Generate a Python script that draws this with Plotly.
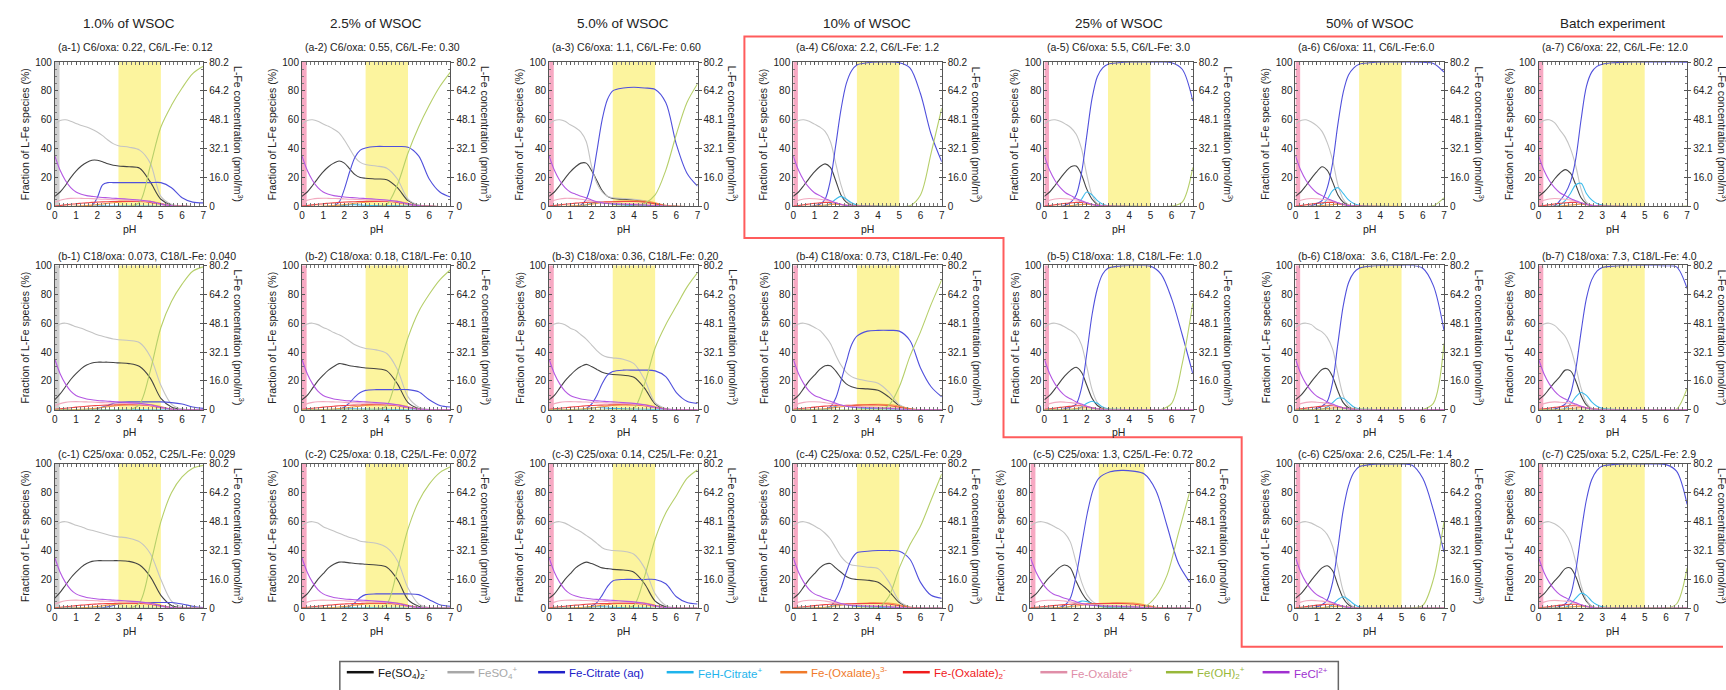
import plotly.graph_objects as go

W, H = 1726, 690

# pH sampling points shared by every species curve
PH = [0, 0.25, 0.5, 0.75, 1, 1.25, 1.5, 1.75, 2, 2.25, 2.5, 2.75, 3, 3.5, 4, 4.5, 5, 5.5, 6, 6.5, 7]

COLUMN_HEADERS = ["1.0% of WSOC", "2.5% of WSOC", "5.0% of WSOC", "10% of WSOC",
                  "25% of WSOC", "50% of WSOC", "Batch experiment"]

PANEL_IDS = [
    ["a-1", "a-2", "a-3", "a-4", "a-5", "a-6", "a-7"],
    ["b-1", "b-2", "b-3", "b-4", "b-5", "b-6", "b-7"],
    ["c-1", "c-2", "c-3", "c-4", "c-5", "c-6", "c-7"],
]

SUBTITLES = {
    "a-1": "(a-1) C6/oxa: 0.22, C6/L-Fe: 0.12",
    "a-2": "(a-2) C6/oxa: 0.55, C6/L-Fe: 0.30",
    "a-3": "(a-3) C6/oxa: 1.1, C6/L-Fe: 0.60",
    "a-4": "(a-4) C6/oxa: 2.2, C6/L-Fe: 1.2",
    "a-5": "(a-5) C6/oxa: 5.5, C6/L-Fe: 3.0",
    "a-6": "(a-6) C6/oxa: 11, C6/L-Fe:6.0",
    "a-7": "(a-7) C6/oxa: 22, C6/L-Fe: 12.0",
    "b-1": "(b-1) C18/oxa: 0.073, C18/L-Fe: 0.040",
    "b-2": "(b-2) C18/oxa: 0.18, C18/L-Fe: 0.10",
    "b-3": "(b-3) C18/oxa: 0.36, C18/L-Fe: 0.20",
    "b-4": "(b-4) C18/oxa: 0.73, C18/L-Fe: 0.40",
    "b-5": "(b-5) C18/oxa: 1.8, C18/L-Fe: 1.0",
    "b-6": "(b-6) C18/oxa:  3.6, C18/L-Fe: 2.0",
    "b-7": "(b-7) C18/oxa: 7.3, C18/L-Fe: 4.0",
    "c-1": "(c-1) C25/oxa: 0.052, C25/L-Fe: 0.029",
    "c-2": "(c-2) C25/oxa: 0.18, C25/L-Fe: 0.072",
    "c-3": "(c-3) C25/oxa: 0.14, C25/L-Fe: 0.21",
    "c-4": "(c-4) C25/oxa: 0.52, C25/L-Fe: 0.29",
    "c-5": "(c-5) C25/oxa: 1.3, C25/L-Fe: 0.72",
    "c-6": "(c-6) C25/oxa: 2.6, C25/L-Fe: 1.4",
    "c-7": "(c-7) C25/oxa: 5.2, C25/L-Fe: 2.9",
}

# Fe(SO4)2-  (%)
FE_SO4_2 = {
    "a-1": [7, 10, 14.5, 20, 24.5, 28, 30.5, 32, 32, 31, 29.5, 28.5, 28, 27.5, 26.5, 17, 5, 1, 0.2, 0, 0],
    "a-2": [7, 10, 14.5, 19.5, 24, 27.5, 30, 31.5, 30, 26, 22, 20, 19.5, 19, 18.5, 13, 4, 0.8, 0.1, 0, 0],
    "a-3": [7, 10, 14.5, 19.5, 24, 27.5, 30, 30, 25, 18, 11, 7, 5.5, 5, 4.5, 3.5, 2, 0.4, 0, 0, 0],
    "a-4": [7, 10, 14.5, 19.5, 24, 27.5, 29.5, 27, 18, 8, 3, 1, 0.3, 0, 0, 0, 0, 0, 0, 0, 0],
    "a-5": [7, 10, 14.5, 19.5, 24, 27.5, 28, 22, 12, 5, 1.5, 0.3, 0, 0, 0, 0, 0, 0, 0, 0, 0],
    "a-6": [7, 10, 14.5, 19.5, 24, 27.5, 25, 17, 8, 3, 0.8, 0.2, 0, 0, 0, 0, 0, 0, 0, 0, 0],
    "a-7": [7, 10, 14, 19, 23, 25.5, 23, 15, 6, 2, 0.5, 0.1, 0, 0, 0, 0, 0, 0, 0, 0, 0],
    "b-1": [7, 11, 16, 21, 25, 28.5, 31, 32.5, 33, 33, 33, 32.8, 32.5, 32, 30, 22, 8, 2, 0.3, 0, 0],
    "b-2": [7, 10, 15, 20, 24, 27.5, 30, 32, 31.5, 30.5, 30, 29.5, 29, 28.5, 27, 18, 5, 1, 0.1, 0, 0],
    "b-3": [7, 10, 15, 20, 24, 27.5, 30, 31.5, 30, 28, 26, 25, 24.5, 24, 22.5, 15, 4, 0.5, 0, 0, 0],
    "b-4": [7, 10, 15, 20, 24, 28, 30.5, 30.5, 27, 22, 18, 16, 15, 14.5, 13.5, 9, 3, 0.5, 0, 0, 0],
    "b-5": [7, 10, 14.5, 19.5, 24, 27.5, 29.5, 26, 17, 8, 3, 1, 0.2, 0, 0, 0, 0, 0, 0, 0, 0],
    "b-6": [7, 10, 14.5, 19.5, 24, 28, 28.5, 23, 13, 5, 1.5, 0.4, 0, 0, 0, 0, 0, 0, 0, 0, 0],
    "b-7": [7, 10, 14.5, 19, 23, 27.5, 27, 20, 10, 3.5, 1, 0.2, 0, 0, 0, 0, 0, 0, 0, 0, 0],
    "c-1": [7, 11, 16, 21, 25, 28.5, 31, 32.5, 33, 33, 33, 33, 33, 32.5, 30, 22, 9, 2, 0.3, 0, 0],
    "c-2": [7, 10, 15, 20, 24, 28, 30.5, 32, 32, 31.5, 31, 30.8, 30.5, 30, 28.5, 20, 6, 1.5, 0.2, 0, 0],
    "c-3": [7, 10, 15, 20, 24, 28, 30.5, 32, 31, 29.5, 28, 27.5, 27, 26.5, 25, 17, 5, 1, 0.1, 0, 0],
    "c-4": [7, 10, 15, 20, 24, 28, 30.5, 31, 28, 25, 22, 20.5, 20, 19.5, 18, 12, 4, 0.5, 0, 0, 0],
    "c-5": [7, 10, 15, 20, 24, 28, 30, 28, 19, 11, 5.5, 3, 2, 1.3, 1, 0.7, 0.4, 0.1, 0, 0, 0],
    "c-6": [7, 10, 14.5, 19.5, 24, 28, 29.5, 26, 16, 7, 2.5, 0.8, 0.2, 0, 0, 0, 0, 0, 0, 0, 0],
    "c-7": [7, 10, 14.5, 19, 23, 27.5, 28, 22, 12, 5, 1.5, 0.3, 0, 0, 0, 0, 0, 0, 0, 0, 0],
}

# FeSO4+  (%)
FE_SO4 = {
    "a-1": [57, 59.5, 60, 59, 57.5, 56, 55, 53.5, 51.5, 49, 46, 43.5, 42, 41, 39, 30, 7, 1.5, 0.3, 0, 0],
    "a-2": [57, 59.5, 60, 59, 57, 55.5, 53.5, 51, 46, 40, 34, 30.5, 29, 28, 26.5, 19, 5, 1, 0.2, 0, 0],
    "a-3": [57, 59.5, 60, 59, 56.5, 54.5, 51.5, 45, 28, 16, 10, 7, 6, 5.5, 5, 4, 2, 0.5, 0.1, 0, 0],
    "a-4": [57, 59.5, 60, 59, 57, 55, 52, 45, 30, 15, 5, 1.5, 0.5, 0.1, 0, 0, 0, 0, 0, 0, 0],
    "a-5": [57, 59.5, 60, 59, 57, 54.5, 50, 40, 22, 8, 2, 0.5, 0.1, 0, 0, 0, 0, 0, 0, 0, 0],
    "a-6": [57, 59.5, 60, 58.5, 56, 52, 44, 32, 15, 5, 1, 0.2, 0, 0, 0, 0, 0, 0, 0, 0, 0],
    "a-7": [57, 59.5, 60, 58, 53, 48, 40, 28, 12, 3, 0.7, 0.1, 0, 0, 0, 0, 0, 0, 0, 0, 0],
    "b-1": [57, 59.5, 60, 59, 57.5, 56.5, 55, 53.5, 52, 51, 50, 49, 48.5, 48, 46.5, 37, 17, 4, 0.5, 0, 0],
    "b-2": [57, 59.5, 60, 59, 57, 55.5, 53.5, 52, 50, 47.5, 45, 43.5, 42.5, 41.5, 39, 28, 9, 2, 0.3, 0, 0],
    "b-3": [57, 59.5, 60, 59, 56.5, 55, 52, 49, 45, 41, 38, 36.5, 36, 35, 32, 21, 5, 1, 0.2, 0, 0],
    "b-4": [57, 59.5, 60, 59, 57, 55, 51, 46, 38, 31, 26, 23, 21.5, 20, 18.5, 12.5, 3.5, 0.7, 0.1, 0, 0],
    "b-5": [57, 59.5, 60, 59, 57, 55, 52, 45, 30, 14, 5, 1.5, 0.3, 0, 0, 0, 0, 0, 0, 0, 0],
    "b-6": [57, 59.5, 60, 59, 56, 54, 50, 42, 25, 10, 3, 0.8, 0.2, 0, 0, 0, 0, 0, 0, 0, 0],
    "b-7": [57, 59.5, 60, 58.5, 55, 51, 43, 30, 15, 5, 1, 0.2, 0, 0, 0, 0, 0, 0, 0, 0, 0],
    "c-1": [57, 59.5, 60, 59, 57.5, 56.5, 55, 54, 53, 52, 51, 50, 49.5, 48.5, 46, 38, 20, 5, 1, 0, 0],
    "c-2": [57, 59.5, 60, 59, 56.5, 55, 53.5, 52, 50.5, 49, 48, 46.5, 46, 45, 42, 33, 14, 3, 0.5, 0, 0],
    "c-3": [57, 59.5, 60, 59, 57, 55, 53, 50.5, 48, 45, 42, 40.5, 40, 39.5, 37.5, 28, 10, 2, 0.4, 0, 0],
    "c-4": [57, 59.5, 60, 59, 57, 55, 52, 48, 42, 36, 32, 30, 29.5, 28.5, 27.5, 18.5, 5, 1, 0.1, 0, 0],
    "c-5": [57, 59.5, 60, 59, 57, 55, 52, 46, 32, 18, 9, 4.5, 2.5, 1.5, 1, 0.7, 0.4, 0.1, 0, 0, 0],
    "c-6": [57, 59.5, 60, 59, 57, 55, 51, 43, 28, 12, 4, 1, 0.2, 0, 0, 0, 0, 0, 0, 0, 0],
    "c-7": [57, 59.5, 60, 58.5, 56, 52, 45, 32, 16, 6, 1.5, 0.3, 0, 0, 0, 0, 0, 0, 0, 0, 0],
}

# Fe-Citrate (aq)  (%)
FE_CIT = {
    "a-1": [0, 0, 0, 0, 0, 0, 0, 0.5, 6, 15, 16.5, 16.5, 16.5, 16.5, 16.5, 16.5, 16.5, 13, 6, 3, 2.5],
    "a-2": [0, 0, 0, 0, 0, 0, 0.5, 3, 12, 24, 34, 39, 40.5, 41.5, 41.5, 41.5, 41, 35, 19, 10, 6.5],
    "a-3": [0, 0, 0, 0, 0, 0, 1, 5, 17, 38, 60, 74, 80, 82, 82.5, 82, 81, 72, 43, 23, 14],
    "a-4": [0, 0, 0, 0, 0.5, 1.5, 5, 18, 42, 67, 85, 94, 98, 99.5, 100, 100, 99.5, 96, 78, 50, 31],
    "a-5": [0, 0, 0, 0, 1, 3, 8, 23, 49, 75, 90, 96, 98.5, 99.5, 100, 100, 100, 100, 99.5, 95, 73],
    "a-6": [0, 0, 0, 0.5, 2, 4, 13, 30, 57, 79, 91, 96, 98.5, 99.5, 100, 100, 100, 100, 99.8, 99, 93],
    "a-7": [0, 0, 0, 0.5, 4, 9, 17, 33, 60, 83, 93, 97, 98.5, 99.5, 99.8, 100, 100, 100, 100, 100, 99.8],
    "b-1": [0, 0, 0, 0, 0, 0, 0, 0, 1, 2, 3, 4.5, 5, 5.5, 5.5, 5.5, 5.5, 5, 4, 2, 1],
    "b-2": [0, 0, 0, 0, 0, 0, 0, 0.5, 2, 5, 9, 12, 13.5, 14, 14, 14, 14, 12.5, 7, 3, 2],
    "b-3": [0, 0, 0, 0, 0, 0, 0, 1, 4, 10, 18, 24, 26.5, 27.5, 27.5, 27.5, 27, 23, 12, 6, 4.5],
    "b-4": [0, 0, 0, 0, 0, 0, 0.5, 2, 8, 20, 33, 45, 51, 54.5, 55, 55, 54.5, 48, 29, 16, 9],
    "b-5": [0, 0, 0, 0, 1, 2, 4, 15, 39, 66, 84, 94, 98, 99.5, 100, 100, 99.5, 94, 77, 52, 25],
    "b-6": [0, 0, 0, 0, 1, 2.5, 6, 19, 46, 72, 88, 95, 98, 99.5, 100, 100, 100, 100, 98, 86, 55],
    "b-7": [0, 0, 0, 0.5, 2, 4, 11, 28, 54, 77, 90, 96, 98.5, 99.5, 100, 100, 100, 100, 99.8, 99, 84],
    "c-1": [0, 0, 0, 0, 0, 0, 0, 0, 0, 0.3, 1, 2, 3, 3.5, 4, 4, 4, 4, 3, 1.5, 0.5],
    "c-2": [0, 0, 0, 0, 0, 0, 0, 0, 0.5, 1.5, 4, 7.5, 9.5, 10, 10, 10, 10, 9.5, 6, 2.5, 1.5],
    "c-3": [0, 0, 0, 0, 0, 0, 0, 0.5, 1.5, 4, 9, 15, 19, 20, 20, 20, 20, 17, 8, 4, 3],
    "c-4": [0, 0, 0, 0, 0, 0, 0.3, 1.5, 6, 14, 25, 34, 38.5, 39.5, 40, 40, 39.5, 34, 18, 9, 7],
    "c-5": [0, 0, 0, 0, 0, 0.5, 2, 7, 22, 44, 66, 82, 90, 94.5, 95.5, 95, 93, 82, 57, 31, 18],
    "c-6": [0, 0, 0, 0, 1, 2.5, 6, 18, 42, 68, 85, 94, 98, 99.5, 100, 100, 100, 99, 90, 68, 39],
    "c-7": [0, 0, 0, 0, 1.5, 3, 9, 26, 52, 75, 89, 95.5, 98.5, 99.5, 100, 100, 100, 100, 99.5, 95, 72],
}

# FeH-Citrate+  (%)
FEH_CIT = {
    "a-1": [0, 0, 0, 0, 0, 0, 0, 0.1, 0.3, 0.4, 0.3, 0.3, 0.3, 0.3, 0.3, 0.2, 0.1, 0, 0, 0, 0],
    "a-2": [0, 0, 0, 0, 0, 0, 0.1, 0.3, 0.8, 1.2, 1.2, 1, 0.8, 0.6, 0.5, 0.4, 0.2, 0.1, 0, 0, 0],
    "a-3": [0, 0, 0, 0, 0, 0.1, 0.4, 1, 2.2, 3, 2.8, 2.2, 1.6, 1, 0.7, 0.5, 0.3, 0.1, 0, 0, 0],
    "a-4": [0, 0, 0, 0, 0, 0.2, 0.5, 2, 5, 7, 5, 2.5, 1, 0.4, 0.2, 0.1, 0, 0, 0, 0, 0],
    "a-5": [0, 0, 0, 0, 0, 0.3, 1, 5, 10, 8, 4, 1.5, 0.5, 0.2, 0.1, 0, 0, 0, 0, 0, 0],
    "a-6": [0, 0, 0, 0, 0.3, 1.5, 5, 11, 13, 9, 4.5, 2, 0.8, 0.3, 0.1, 0, 0, 0, 0, 0, 0],
    "a-7": [0, 0, 0, 0, 1, 4, 9, 15, 16, 9, 4.5, 2, 1, 0.3, 0.1, 0, 0, 0, 0, 0, 0],
    "b-1": [0, 0, 0, 0, 0, 0, 0, 0, 0.1, 0.2, 0.2, 0.2, 0.2, 0.2, 0.2, 0.1, 0.1, 0, 0, 0, 0],
    "b-2": [0, 0, 0, 0, 0, 0, 0, 0.2, 0.5, 0.7, 0.7, 0.6, 0.5, 0.4, 0.3, 0.2, 0.1, 0, 0, 0, 0],
    "b-3": [0, 0, 0, 0, 0, 0, 0.2, 0.5, 1.2, 1.6, 1.5, 1.2, 1, 0.7, 0.5, 0.4, 0.2, 0.1, 0, 0, 0],
    "b-4": [0, 0, 0, 0, 0, 0.1, 0.3, 1, 2.5, 3.2, 2.8, 2, 1.5, 1, 0.7, 0.5, 0.3, 0.1, 0, 0, 0],
    "b-5": [0, 0, 0, 0, 0, 0.2, 0.5, 2, 4.5, 6, 4.5, 2, 0.8, 0.3, 0.1, 0, 0, 0, 0, 0, 0],
    "b-6": [0, 0, 0, 0, 0, 0.5, 2, 5, 8, 8, 5, 2, 0.8, 0.3, 0.1, 0, 0, 0, 0, 0, 0],
    "b-7": [0, 0, 0, 0, 0.2, 1, 4, 9, 12, 10, 5.5, 2.5, 1, 0.3, 0.1, 0, 0, 0, 0, 0, 0],
    "c-1": [0, 0, 0, 0, 0, 0, 0, 0, 0, 0.1, 0.1, 0.1, 0.1, 0.1, 0.1, 0.1, 0, 0, 0, 0, 0],
    "c-2": [0, 0, 0, 0, 0, 0, 0, 0.1, 0.3, 0.5, 0.5, 0.4, 0.4, 0.3, 0.2, 0.2, 0.1, 0, 0, 0, 0],
    "c-3": [0, 0, 0, 0, 0, 0, 0.1, 0.3, 0.8, 1.1, 1.1, 0.9, 0.7, 0.5, 0.4, 0.3, 0.1, 0, 0, 0, 0],
    "c-4": [0, 0, 0, 0, 0, 0.1, 0.3, 1, 2.3, 3, 2.6, 1.9, 1.4, 0.9, 0.6, 0.4, 0.2, 0.1, 0, 0, 0],
    "c-5": [0, 0, 0, 0, 0, 0.1, 0.4, 1.5, 3.5, 5, 4.5, 2.8, 1.5, 0.6, 0.3, 0.1, 0, 0, 0, 0, 0],
    "c-6": [0, 0, 0, 0, 0, 0.2, 0.8, 2.5, 6, 8, 6, 3, 1, 0.4, 0.1, 0, 0, 0, 0, 0, 0],
    "c-7": [0, 0, 0, 0, 0.1, 0.5, 3, 7, 10.5, 9, 5, 2.5, 1, 0.3, 0.1, 0, 0, 0, 0, 0, 0],
}

# Fe(OH)2+  (%)
FE_OH2 = {
    "a-1": [0, 0, 0, 0, 0, 0, 0, 0, 0, 0, 0, 0, 0, 0, 3, 28, 55, 70, 82, 92, 97],
    "a-2": [0, 0, 0, 0, 0, 0, 0, 0, 0, 0, 0, 0, 0, 0, 1.5, 15, 37, 55, 70, 83, 93],
    "a-3": [0, 0, 0, 0, 0, 0, 0, 0, 0, 0, 0, 0, 0, 0, 0.2, 2, 8, 25, 50, 72, 85],
    "a-4": [0, 0, 0, 0, 0, 0, 0, 0, 0, 0, 0, 0, 0, 0, 0, 0, 0, 0.5, 8, 37, 68],
    "a-5": [0, 0, 0, 0, 0, 0, 0, 0, 0, 0, 0, 0, 0, 0, 0, 0, 0, 0, 0.2, 3, 27],
    "a-6": [0, 0, 0, 0, 0, 0, 0, 0, 0, 0, 0, 0, 0, 0, 0, 0, 0, 0, 0, 0.5, 6],
    "a-7": [0, 0, 0, 0, 0, 0, 0, 0, 0, 0, 0, 0, 0, 0, 0, 0, 0, 0, 0, 0, 0.3],
    "b-1": [0, 0, 0, 0, 0, 0, 0, 0, 0, 0, 0, 0, 0, 0, 4, 27, 57, 75, 87, 96, 99],
    "b-2": [0, 0, 0, 0, 0, 0, 0, 0, 0, 0, 0, 0, 0, 0, 3, 25, 50, 68, 80, 90, 97],
    "b-3": [0, 0, 0, 0, 0, 0, 0, 0, 0, 0, 0, 0, 0, 0, 1, 18, 43, 59, 72, 85, 95],
    "b-4": [0, 0, 0, 0, 0, 0, 0, 0, 0, 0, 0, 0, 0, 0, 0, 3, 16, 37, 54, 73, 90],
    "b-5": [0, 0, 0, 0, 0, 0, 0, 0, 0, 0, 0, 0, 0, 0, 0, 0, 0, 0.3, 4.5, 32, 74],
    "b-6": [0, 0, 0, 0, 0, 0, 0, 0, 0, 0, 0, 0, 0, 0, 0, 0, 0, 0, 0.3, 4.5, 46],
    "b-7": [0, 0, 0, 0, 0, 0, 0, 0, 0, 0, 0, 0, 0, 0, 0, 0, 0, 0, 0, 0.5, 15],
    "c-1": [0, 0, 0, 0, 0, 0, 0, 0, 0, 0, 0, 0, 0, 0, 4, 30, 60, 80, 91, 97, 99],
    "c-2": [0, 0, 0, 0, 0, 0, 0, 0, 0, 0, 0, 0, 0, 0, 3, 27, 55, 74, 86, 94, 98],
    "c-3": [0, 0, 0, 0, 0, 0, 0, 0, 0, 0, 0, 0, 0, 0, 2, 22, 48, 66, 78, 90, 96],
    "c-4": [0, 0, 0, 0, 0, 0, 0, 0, 0, 0, 0, 0, 0, 0, 0.5, 8, 28, 44, 57, 75, 93],
    "c-5": [0, 0, 0, 0, 0, 0, 0, 0, 0, 0, 0, 0, 0, 0, 0, 0, 1, 8, 23, 52, 81],
    "c-6": [0, 0, 0, 0, 0, 0, 0, 0, 0, 0, 0, 0, 0, 0, 0, 0, 0, 0.3, 2, 20, 60],
    "c-7": [0, 0, 0, 0, 0, 0, 0, 0, 0, 0, 0, 0, 0, 0, 0, 0, 0, 0, 0, 3, 28],
}

# Minor species: the curves fall into three shapes depending on citrate level
MINOR_GROUP = {
    "a-1": "low", "a-2": "low", "a-3": "mid", "a-4": "high", "a-5": "high", "a-6": "high", "a-7": "high",
    "b-1": "low", "b-2": "low", "b-3": "low", "b-4": "mid", "b-5": "high", "b-6": "high", "b-7": "high",
    "c-1": "low", "c-2": "low", "c-3": "low", "c-4": "mid", "c-5": "mid", "c-6": "high", "c-7": "high",
}

# Fe-(Oxalate)3 3-  (%)
FE_OX3 = {
    "low": [0, 0, 0.05, 0.1, 0.2, 0.4, 0.6, 0.9, 1.3, 1.7, 2.2, 2.6, 3, 3.5, 3.8, 3.6, 2.2, 0.6, 0.1, 0, 0],
    "mid": [0, 0, 0.05, 0.1, 0.3, 0.5, 0.8, 1.2, 1.6, 2.1, 2.6, 3, 3.3, 3.7, 3.9, 3.7, 2.5, 0.8, 0.1, 0, 0],
    "high": [0, 0, 0.05, 0.1, 0.3, 0.6, 1, 1.3, 1.5, 1.2, 0.8, 0.5, 0.3, 0.15, 0.1, 0.05, 0, 0, 0, 0, 0],
}

# Fe-(Oxalate)2-  (%)
FE_OX2 = {
    "low": [0.3, 0.7, 1.1, 1.5, 1.9, 2.2, 2.5, 2.8, 3, 3.2, 3.3, 3.4, 3.5, 3.5, 3.4, 2.8, 1.5, 0.4, 0.1, 0, 0],
    "mid": [0.3, 0.7, 1.1, 1.5, 1.9, 2.3, 2.6, 2.8, 2.9, 3, 3.1, 3.2, 3.3, 3.4, 3.4, 3, 1.8, 0.5, 0.1, 0, 0],
    "high": [0.3, 0.7, 1.2, 1.7, 2.2, 2.5, 2.8, 2.8, 2.3, 1.5, 0.8, 0.4, 0.2, 0.05, 0, 0, 0, 0, 0, 0, 0],
}

# Fe-Oxalate+  (%)
FE_OX = {
    "low": [3, 4.3, 5.2, 5.6, 5.7, 5.6, 5.5, 5.4, 5.2, 5, 4.9, 4.7, 4.6, 4.3, 4, 3.2, 1.6, 0.4, 0.1, 0, 0],
    "mid": [3, 4.3, 5.2, 5.6, 5.6, 5.4, 5, 4.5, 3.8, 3.2, 2.7, 2.4, 2.2, 2, 1.8, 1.4, 0.7, 0.2, 0, 0, 0],
    "high": [3, 4.3, 5.2, 5.5, 5.3, 5, 4.5, 3.5, 2.5, 1.5, 0.8, 0.35, 0.15, 0.05, 0, 0, 0, 0, 0, 0, 0],
}

# FeCl2+  (%)
FE_CL = {
    "low": [35, 25, 18, 13, 10, 8.5, 7.5, 7, 6.5, 6.2, 6, 5.7, 5.5, 5, 4.5, 3.5, 1.8, 0.5, 0.1, 0, 0],
    "mid": [35, 25, 18, 13, 10, 8.5, 7, 6, 4.5, 3.3, 2.5, 2, 1.8, 1.5, 1.3, 1, 0.5, 0.1, 0, 0, 0],
    "high": [35, 25, 18, 13, 9.5, 7.5, 5.5, 4, 2.5, 1.3, 0.6, 0.25, 0.1, 0, 0, 0, 0, 0, 0, 0, 0],
}

# secondary axis (L-Fe concentration) labels
RIGHT_TICK_VALS = [0, 16.04, 32.08, 48.12, 64.16, 80.2]
RIGHT_TICK_TEXT = ["0", "16.0", "32.1", "48.1", "64.2", "80.2"]
CONC_MAX = 80.2

# shaded pH windows
YELLOW_WINDOW = (3, 5)
EDGE_WINDOW = (0, 0.22)

# species drawing order, line colour, legend colour, legend label
SPECIES = [
    ("FE_SO4_2", "#444444", "#111111", "Fe(SO<sub>4</sub>)<sub>2</sub><sup>-</sup>"),
    ("FE_SO4", "#c4c4c4", "#a8a8a8", "FeSO<sub>4</sub><sup>+</sup>"),
    ("FE_CIT", "#5050dc", "#2020c8", "Fe-Citrate (aq)"),
    ("FEH_CIT", "#3dbcec", "#1eb4ec", "FeH-Citrate<sup>+</sup>"),
    ("FE_OX3", "#f3a044", "#f07a2a", "Fe-(Oxalate)<sub>3</sub><sup>3-</sup>"),
    ("FE_OX2", "#f04646", "#f01c1c", "Fe-(Oxalate)<sub>2</sub><sup>-</sup>"),
    ("FE_OX", "#f2aabf", "#e08ea8", "Fe-Oxalate<sup>+</sup>"),
    ("FE_OH2", "#b6cf6a", "#98b83a", "Fe(OH)<sub>2</sub><sup>+</sup>"),
    ("FE_CL", "#b458e2", "#a030d0", "FeCl<sup>2+</sup>"),
]
SERIES = {"FE_SO4_2": FE_SO4_2, "FE_SO4": FE_SO4, "FE_CIT": FE_CIT, "FEH_CIT": FEH_CIT,
          "FE_OH2": FE_OH2, "FE_OX3": FE_OX3, "FE_OX2": FE_OX2, "FE_OX": FE_OX, "FE_CL": FE_CL}
GROUPED = {"FE_OX3", "FE_OX2", "FE_OX", "FE_CL"}

# panel placement in pixels
COL_LEFT = [52, 300, 548, 793, 1045, 1297, 1541]
ROW_TOP = [57, 264, 466]
ROW_TITLE_Y = [42, 254, 456]
PANEL_W, PANEL_H = 149, 147
PANEL_OVERRIDE = {"c-5": (1031, 160)}

FONT = "Liberation Sans, Arial, sans-serif"
TXT = "#222222"


def px(x):
    return x / W


def py(y):
    return 1 - y / H


def axis_id(letter, n):
    return letter if n == 1 else f"{letter}{n}"


def axis_key(letter, n):
    return f"{letter}axis" if n == 1 else f"{letter}axis{n}"


fig = go.Figure()
layout = {}
shapes = []
annotations = []

for c, header in enumerate(COLUMN_HEADERS):
    annotations.append(dict(x=px(COL_LEFT[c] + PANEL_W / 2), y=py(18), xref="paper", yref="paper",
                            text=header, showarrow=False, xanchor="center", yanchor="middle",
                            font=dict(size=13.5, color=TXT, family=FONT)))

k = 0
for r, row in enumerate(PANEL_IDS):
    for c, pid in enumerate(row):
        k += 1
        left, width = PANEL_OVERRIDE.get(pid, (COL_LEFT[c], PANEL_W))
        top = ROW_TOP[r]
        right, bottom = left + width, top + PANEL_H
        xa, ya, ya2 = axis_id("x", k), axis_id("y", k), axis_id("y", k + 21)

        for key, color, _, _ in SPECIES:
            src = SERIES[key]
            vals = src[MINOR_GROUP[pid]] if key in GROUPED else src[pid]
            fig.add_trace(go.Scatter(x=PH, y=vals, mode="lines", xaxis=xa, yaxis=ya,
                                     line=dict(color=color, width=1.1, shape="spline", smoothing=0.9),
                                     showlegend=False, hoverinfo="skip"))
        # empty trace that attaches the concentration scale to this panel
        fig.add_trace(go.Scatter(x=[], y=[], mode="lines", xaxis=xa, yaxis=ya2,
                                 showlegend=False, hoverinfo="skip"))

        layout[axis_key("x", k)] = dict(
            domain=[px(left), px(right)], anchor=ya, range=[0, 7], dtick=1,
            showline=True, linecolor="#555555", linewidth=1, mirror="allticks",
            ticks="inside", ticklen=3, tickcolor="#555555",
            minor=dict(ticks="inside", ticklen=2, dtick=0.2, tickcolor="#777777"),
            showgrid=False, zeroline=False, tickfont=dict(size=10, color=TXT, family=FONT))
        layout[axis_key("y", k)] = dict(
            domain=[py(bottom), py(top)], anchor=xa, range=[0, 100], dtick=20,
            showline=True, linecolor="#555555", linewidth=1, mirror="allticks",
            ticks="inside", ticklen=3, tickcolor="#555555",
            minor=dict(ticks="inside", ticklen=2, dtick=5, tickcolor="#777777"),
            showgrid=False, zeroline=False, tickfont=dict(size=10, color=TXT, family=FONT))
        layout[axis_key("y", k + 21)] = dict(
            overlaying=ya, anchor=xa, side="right", range=[0, CONC_MAX],
            tickmode="array", tickvals=RIGHT_TICK_VALS, ticktext=RIGHT_TICK_TEXT,
            ticks="outside", ticklen=3, tickcolor="#555555", showline=False,
            showgrid=False, zeroline=False, tickfont=dict(size=10, color=TXT, family=FONT))

        band = "#cfcfcf" if c == 0 else "#f7a9c3"
        shapes.append(dict(type="rect", xref=xa, yref=f"{ya} domain", x0=EDGE_WINDOW[0], x1=EDGE_WINDOW[1],
                           y0=0, y1=1, fillcolor=band, line=dict(width=0), layer="below"))
        shapes.append(dict(type="rect", xref=xa, yref=f"{ya} domain", x0=YELLOW_WINDOW[0], x1=YELLOW_WINDOW[1],
                           y0=0, y1=1, fillcolor="#fcf49e", line=dict(width=0), layer="below"))

        annotations.append(dict(x=px(left + 1), y=py(ROW_TITLE_Y[r]), xref="paper", yref="paper",
                                text=SUBTITLES[pid], showarrow=False, xanchor="left", yanchor="middle",
                                font=dict(size=10.5, color=TXT, family=FONT)))
        annotations.append(dict(x=px(left - 30), y=py(top + PANEL_H / 2), xref="paper", yref="paper",
                                text="Fraction of L-Fe species (%)", textangle=-90, showarrow=False,
                                xanchor="center", yanchor="middle",
                                font=dict(size=10.5, color=TXT, family=FONT)))
        annotations.append(dict(x=px(right + 36), y=py(top + PANEL_H / 2), xref="paper", yref="paper",
                                text="L-Fe concentration (pmol/m<sup>3</sup>)", textangle=90, showarrow=False,
                                xanchor="center", yanchor="middle",
                                font=dict(size=10.5, color=TXT, family=FONT)))
        annotations.append(dict(x=px(left + width / 2), y=py(bottom + 23), xref="paper", yref="paper",
                                text="pH", showarrow=False, xanchor="center", yanchor="middle",
                                font=dict(size=10.5, color=TXT, family=FONT)))

# outline around the citrate-dominated panels
outline = [(1726, 31), (744, 31), (744, 236), (1004, 236), (1004, 439),
           (1243, 439), (1243, 652), (1726, 652)]
path = "M " + " L ".join(f"{px(x):.5f},{py(y):.5f}" for x, y in outline)
shapes.append(dict(type="path", xref="paper", yref="paper", path=path,
                   line=dict(color="#ff5c5c", width=2)))

# legend box along the bottom
shapes.append(dict(type="rect", xref="paper", yref="paper", x0=px(338), x1=px(1340), y0=py(698), y1=py(667),
                   line=dict(color="#666666", width=1.5), fillcolor="rgba(0,0,0,0)"))
LEGEND_X = [345, 446, 537, 666, 780, 903, 1041, 1167, 1264]
for (key, _, lcolor, label), lx in zip(SPECIES, LEGEND_X):
    shapes.append(dict(type="line", xref="paper", yref="paper", x0=px(lx), x1=px(lx + 27),
                       y0=py(678), y1=py(678), line=dict(color=lcolor, width=2.5)))
    annotations.append(dict(x=px(lx + 29), y=py(679), xref="paper", yref="paper", text=label,
                            showarrow=False, xanchor="left", yanchor="middle",
                            font=dict(size=11.5, color=lcolor, family=FONT)))

fig.update_layout(
    width=W, height=H, margin=dict(l=0, r=0, t=0, b=0),
    paper_bgcolor="white", plot_bgcolor="white", showlegend=False,
    shapes=shapes, annotations=annotations, **layout)

fig.write_html("out.html")
